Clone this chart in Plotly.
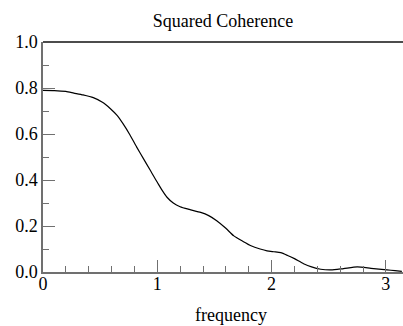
import plotly.graph_objects as go

freq = [0, 0.1, 0.2, 0.27, 0.35, 0.44, 0.52, 0.59, 0.65, 0.70, 0.76, 0.82, 0.88,
        0.94, 0.97, 1.0, 1.04, 1.085, 1.14, 1.2, 1.28, 1.38, 1.45, 1.52, 1.6, 1.67,
        1.75, 1.82, 1.9, 1.96, 2.02, 2.08, 2.14, 2.2, 2.28, 2.35, 2.43, 2.52, 2.63,
        2.75, 2.87, 3.01, 3.08, 3.14]
coh = [0.790, 0.789, 0.785, 0.778, 0.770, 0.758, 0.738, 0.710, 0.680, 0.645, 0.597,
       0.543, 0.492, 0.441, 0.415, 0.390, 0.357, 0.325, 0.300, 0.284, 0.272, 0.259,
       0.245, 0.223, 0.190, 0.157, 0.133, 0.114, 0.100, 0.092, 0.088, 0.084, 0.072,
       0.058, 0.036, 0.022, 0.012, 0.009, 0.015, 0.022, 0.016, 0.009, 0.006, 0.003]

title_text = "Squared Coherence"
x_label = "frequency"
x_ticks = [0, 1, 2, 3]
y_ticks = [0.0, 0.2, 0.4, 0.6, 0.8, 1.0]
y_ticklabels = ["0.0", "0.2", "0.4", "0.6", "0.8", "1.0"]

FONT = "Liberation Serif"
FS = 18
AXC = "#707070"

fig = go.Figure()
fig.add_trace(go.Scatter(x=freq, y=coh, mode="lines",
                         line=dict(color="black", width=1.2, shape="spline", smoothing=0.6),
                         hoverinfo="skip", showlegend=False))

fig.update_layout(
    width=403, height=326,
    margin=dict(l=43, r=0, t=42, b=54, autoexpand=False),
    paper_bgcolor="white", plot_bgcolor="white",
    font=dict(family=FONT, size=FS, color="black"),
    title=dict(text=title_text, x=0.5, xref="paper", y=1 - 21 / 326, yanchor="middle",
               xanchor="center", font=dict(family=FONT, size=FS, color="black")),
    showlegend=False,
)
fig.update_xaxes(
    range=[0, 3.15], tickvals=x_ticks, ticktext=[str(v) for v in x_ticks],
    automargin=False, ticklabelstandoff=-5,
    showgrid=False, zeroline=False, showline=True, linecolor=AXC, linewidth=1.5,
    ticks="inside", ticklen=12, tickwidth=1.2, tickcolor=AXC,
    minor=dict(dtick=0.2, tick0=0, ticks="inside", ticklen=6, tickwidth=1.2,
               tickcolor=AXC, showgrid=False),
    tickfont=dict(family=FONT, size=FS, color="black"),
)
fig.update_yaxes(
    range=[0, 1.0], tickvals=y_ticks, ticktext=y_ticklabels,
    automargin=False,
    showgrid=False, zeroline=False, showline=True, linecolor=AXC, linewidth=1.5,
    ticks="inside", ticklen=12, tickwidth=1.2, tickcolor=AXC,
    minor=dict(dtick=0.1, tick0=0, ticks="inside", ticklen=6, tickwidth=1.2,
               tickcolor=AXC, showgrid=False),
    tickfont=dict(family=FONT, size=FS, color="black"),
)
# top frame line
fig.add_shape(type="line", xref="paper", yref="paper", x0=0, x1=1, y0=1, y1=1,
              line=dict(color="#111111", width=1.3))
fig.add_annotation(text=x_label, xref="paper", yref="paper", x=0.522, y=-0.237,
                   xanchor="center", yanchor="bottom", showarrow=False,
                   font=dict(family=FONT, size=FS, color="black"))

fig.write_html("out.html", config={"displayModeBar": False},
               post_script="document.body.style.margin='0';document.body.style.overflow='hidden';")
